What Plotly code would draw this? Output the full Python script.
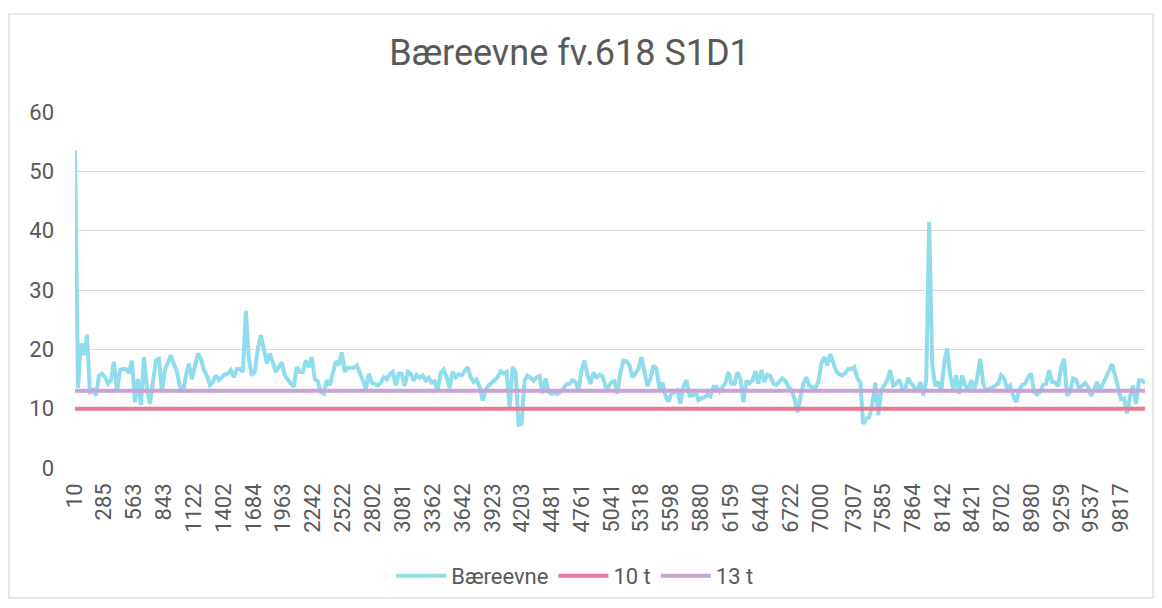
import numpy as np
import plotly.graph_objects as go

title = "Bæreevne fv.618 S1D1"

# Bæreevne values (evenly spaced along the road)
baereevne = [
    # 10 - ~1440
    53.5, 13.5, 21.0, 19.0, 22.5, 12.5, 13.4, 12.2, 15.6, 15.9, 15.3, 14.2, 14.8, 17.9, 12.8, 16.5, 16.7,
    16.7, 16.0, 18.1, 11.1, 15.0, 10.6, 18.7, 13.4, 10.8, 14.5, 18.1, 18.4, 12.8, 16.5, 17.9, 19.0,
    17.5, 16.2, 13.8, 12.8, 15.5, 17.6, 15.0, 17.0, 19.3, 18.4, 16.5, 15.6, 14.0, 14.5, 15.6, 14.8,
    15.3, 15.8,
    # ~1440 - ~2870
    15.9, 16.5, 15.3, 16.7, 16.7, 16.2, 26.5, 18.4, 15.6, 16.2, 20.1, 22.4, 20.1, 17.6, 19.3, 17.6, 16.2,
    17.0, 17.8, 15.6, 14.8, 14.2, 13.7, 17.0, 16.2, 16.2, 18.1, 17.0, 18.7, 15.0, 14.6, 12.8, 12.5,
    14.8, 13.9, 15.9, 18.0, 17.3, 19.5, 16.2, 16.9, 16.9, 16.9, 17.3, 16.2, 14.8, 13.3, 15.9, 14.4,
    14.2, 13.9,
    # ~2870 - ~4300
    14.4, 15.3, 14.9, 15.8, 16.2, 13.9, 15.9, 15.9, 13.8, 16.2, 15.9, 14.7, 15.7, 15.2, 15.6, 14.8, 15.2,
    14.4, 14.6, 13.1, 16.0, 16.6, 15.3, 13.5, 16.2, 15.3, 15.8, 15.6, 16.3, 17.0, 15.3, 14.5, 14.9,
    13.7, 11.4, 13.1, 13.9, 14.4, 14.9, 15.3, 16.3, 15.9, 16.2, 10.0, 17.0, 16.2, 7.3, 7.5, 14.8,
    15.6, 15.2,
    # ~4300 - ~5740
    14.7, 15.3, 15.5, 12.6, 15.1, 12.8, 12.5, 12.6, 12.5, 12.8, 13.4, 14.1, 14.2, 14.8, 14.5, 13.0, 16.5,
    18.1, 15.7, 14.2, 16.1, 15.3, 15.7, 15.5, 13.7, 13.7, 14.5, 14.6, 12.5, 16.2, 18.1, 18.0, 17.3,
    15.3, 15.9, 16.7, 18.7, 16.2, 13.8, 15.1, 17.3, 16.7, 13.4, 14.4, 12.2, 11.2, 12.5, 12.8, 13.1,
    10.8, 13.7,
    # ~5740 - ~7170
    14.8, 12.2, 12.2, 13.0, 11.4, 11.8, 11.9, 12.4, 12.1, 13.7, 13.7, 12.9, 13.6, 14.3, 16.2, 14.2, 14.2,
    16.1, 15.1, 11.1, 14.7, 14.3, 14.7, 16.3, 14.2, 16.5, 14.5, 15.7, 15.5, 14.2, 14.0, 14.5, 15.1,
    14.7, 13.7, 13.2, 11.8, 9.4, 11.5, 14.2, 15.3, 13.9, 13.6, 13.5, 14.5, 17.6, 18.7, 17.3, 19.2,
    17.6, 16.3,
    # ~7170 - ~8610
    15.8, 15.6, 16.0, 16.7, 16.7, 17.0, 15.2, 14.4, 7.4, 8.3, 8.6, 10.7, 14.4, 8.9, 13.1, 13.9, 14.8,
    16.5, 13.9, 14.2, 14.9, 13.4, 13.4, 15.2, 14.2, 13.7, 12.8, 14.5, 12.2, 14.8, 41.5, 17.6, 13.8,
    14.5, 12.8, 17.6, 20.2, 15.6, 13.4, 15.6, 12.5, 15.6, 13.9, 13.1, 14.8, 13.1, 15.1, 18.4, 14.4,
    12.8, 13.4,
    # ~8610 - ~10040
    13.5, 13.8, 14.2, 15.6, 15.1, 13.4, 13.9, 12.2, 11.1, 13.1, 14.0, 14.2, 15.3, 15.9, 12.8, 12.4, 12.8,
    14.0, 14.2, 16.5, 14.5, 14.4, 13.8, 17.0, 18.4, 12.2, 12.8, 15.1, 14.9, 13.4, 13.9, 14.3, 13.7,
    12.1, 13.1, 14.5, 13.1, 14.2, 15.3, 16.7, 17.5, 15.6, 13.7, 11.6, 11.7, 9.2, 12.0, 13.9, 10.8,
    14.8, 14.8, 14.3,
]

start_chainage = 10
end_chainage = 10041
limit_10 = 10
limit_13 = 13

tick_labels = ["10", "285", "563", "843", "1122", "1402", "1684", "1963", "2242", "2522",
               "2802", "3081", "3362", "3642", "3923", "4203", "4481", "4761", "5041", "5318",
               "5598", "5880", "6159", "6440", "6722", "7000", "7307", "7585", "7864", "8142",
               "8421", "8702", "8980", "9259", "9537", "9817"]

chainage = np.linspace(start_chainage, end_chainage, len(baereevne))

fig = go.Figure()
fig.add_trace(go.Scatter(x=chainage, y=baereevne, mode="lines", name="Bæreevne",
                         line=dict(color="#8fdcec", width=4)))
fig.add_trace(go.Scatter(x=[chainage[0], chainage[-1]], y=[limit_10, limit_10], mode="lines",
                         name="10 t", line=dict(color="#e97a92", width=4)))
fig.add_trace(go.Scatter(x=[chainage[0], chainage[-1]], y=[limit_13, limit_13], mode="lines",
                         name="13 t", line=dict(color="#c9a2da", width=4)))

grey = "#595959"
fig.update_layout(
    width=1146, height=592,
    margin=dict(l=67, r=9, t=104, b=132, autoexpand=False),
    paper_bgcolor="white", plot_bgcolor="white",
    font=dict(family="Roboto", color=grey, size=22),
    title=dict(text=title, x=0.49, xanchor="center", y=0.925, yanchor="middle",
               font=dict(family="Roboto", size=36, color=grey)),
    showlegend=True,
    legend=dict(orientation="h", x=0.467, xanchor="center", y=-0.303, yanchor="middle",
                font=dict(size=22, color=grey), itemwidth=50, traceorder="normal"),
    shapes=[dict(type="rect", xref="paper", yref="paper",
                 x0=-0.0617, x1=1.0075, y0=-0.365, y1=1.2753,
                 line=dict(color="#d9d9d9", width=1.2), fillcolor="rgba(0,0,0,0)", layer="below")],
)
fig.update_xaxes(range=[start_chainage, end_chainage], tickmode="array",
                 tickvals=[int(t) for t in tick_labels], ticktext=tick_labels,
                 tickangle=-90, showgrid=False, zeroline=False, showline=False, automargin=False,
                 ticklabelstandoff=10, tickfont=dict(size=22, color=grey))
fig.update_yaxes(range=[0, 60], dtick=10, tick0=0, showgrid=True, gridcolor="#d9d9d9",
                 gridwidth=1.2, zeroline=False, showline=False, ticklabelstandoff=20, automargin=False,
                 tickfont=dict(size=22, color=grey))

fig.write_html("out.html")
